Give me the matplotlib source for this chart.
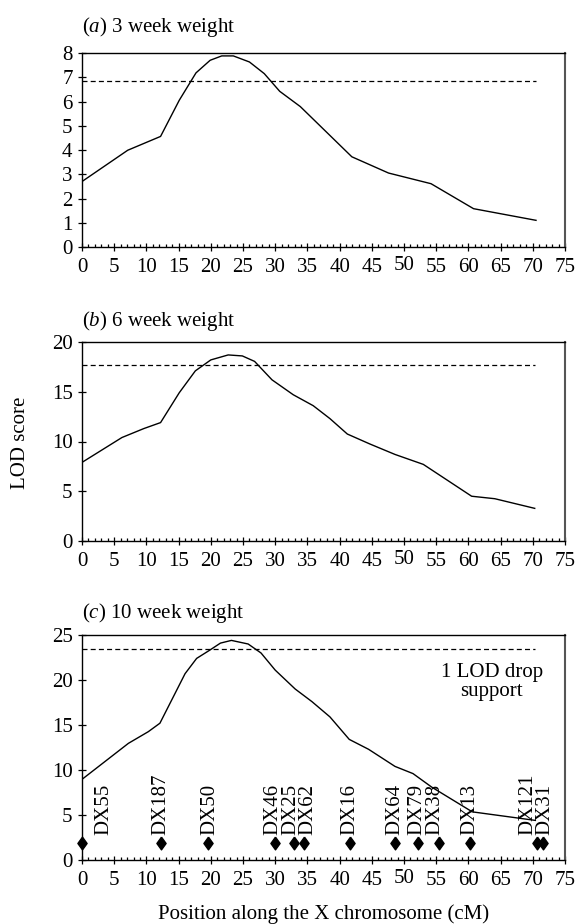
import matplotlib
matplotlib.use("Agg")
import matplotlib.pyplot as plt
from matplotlib.ticker import MultipleLocator, FixedLocator
from matplotlib.transforms import ScaledTranslation

plt.rcParams['font.family'] = ['Liberation Serif', 'DejaVu Serif']
plt.rcParams['mathtext.fontset'] = 'custom'
plt.rcParams['mathtext.rm'] = 'Liberation Serif'
plt.rcParams['mathtext.it'] = 'Liberation Serif:italic'
plt.rcParams['lines.scale_dashes'] = False

# Panel (a) 3 week weight
pos_a = [0, 7.1, 12.2, 15.1, 17.7, 19.9, 21.7, 23.5, 26.0, 28.3, 30.7, 33.9, 41.9, 47.6, 54.2, 60.8, 70.5]
lod_a = [2.70, 3.99, 4.56, 6.05, 7.18, 7.70, 7.88, 7.88, 7.63, 7.15, 6.42, 5.79, 3.72, 3.05, 2.61, 1.58, 1.10]
thr_a = 6.85

# Panel (b) 6 week weight
pos_b = [0, 6.2, 9.6, 12.2, 15.1, 17.6, 20.0, 22.7, 24.9, 26.8, 29.5, 32.8, 35.9, 38.5, 41.2, 44.7, 48.6, 53.0, 60.5, 64.1, 70.3]
lod_b = [7.9, 10.4, 11.3, 11.9, 14.9, 17.1, 18.2, 18.7, 18.6, 18.05, 16.2, 14.7, 13.6, 12.3, 10.75, 9.75, 8.7, 7.7, 4.5, 4.25, 3.28]
thr_b = 17.7

# Panel (c) 10 week weight
pos_c = [0, 7.2, 10.3, 12.1, 14.3, 16.0, 17.8, 19.8, 21.5, 23.2, 25.8, 27.8, 30.0, 33.1, 35.7, 38.5, 41.5, 44.5, 48.6, 51.4, 54.3, 60.6, 70.4]
lod_c = [8.96, 12.96, 14.26, 15.2, 18.3, 20.7, 22.4, 23.3, 24.1, 24.4, 24.0, 23.0, 21.1, 19.0, 17.6, 15.9, 13.4, 12.3, 10.4, 9.6, 8.1, 5.35, 4.4]
thr_c = 23.5

# Markers
marker_names = ['DX55', 'DX187', 'DX50', 'DX46', 'DX25', 'DX62', 'DX16', 'DX64', 'DX79', 'DX38', 'DX13', 'DX121', 'DX31']
marker_pos = [0, 12.2, 19.6, 30.0, 32.9, 34.5, 41.6, 48.6, 52.2, 55.5, 60.3, 70.6, 71.6]
label_pos = [3.4, 12.3, 19.8, 29.6, 32.4, 35.0, 41.6, 48.6, 52.0, 54.8, 60.2, 69.3, 71.9]
marker_y = 1.9

titles = [r'($\mathit{a}$) 3 week weight', r'($\mathit{b}$) 6 week weight', r'($\mathit{c}$) 10 week weight']
xticks = list(range(0, 80, 5))

W, H = 579, 924
fig = plt.figure(figsize=(W / 100, H / 100), dpi=100)

def rect(l, t, r, b):
    return [l / W, 1 - b / H, (r - l) / W, (b - t) / H]

ax_a = fig.add_axes(rect(82, 53, 565, 247))
ax_b = fig.add_axes(rect(82, 342, 565, 541))
ax_c = fig.add_axes(rect(82, 635, 565, 860))

panels = [
    (ax_a, pos_a, lod_a, thr_a, 8, 1, 21),
    (ax_b, pos_b, lod_b, thr_b, 20, 5, 16),
    (ax_c, pos_c, lod_c, thr_c, 25, 5, 17),
]

FS = 15
for i, (ax, px, py, thr, ymax, ystep, toff) in enumerate(panels):
    ax.plot(px, py, color='black', lw=1.0)
    ax.plot([0, px[-1]], [thr, thr], color='black', lw=0.9, linestyle=(0, (3.6, 2.3)))
    ax.set_xlim(0, 75)
    ax.set_ylim(0, ymax)
    ax.xaxis.set_major_locator(FixedLocator(xticks))
    ax.xaxis.set_minor_locator(MultipleLocator(1))
    ax.yaxis.set_major_locator(MultipleLocator(ystep))
    ax.tick_params(axis='x', which='major', direction='inout', length=6, width=0.9, labelsize=FS, pad=5)
    ax.tick_params(axis='x', which='minor', direction='in', length=2.4, width=0.9)
    ax.tick_params(axis='y', which='major', direction='inout', length=5.5, width=0.9, labelsize=FS, pad=4)
    ax.tick_params(top=False, right=False)
    for s in ['left', 'bottom', 'top']:
        ax.spines[s].set_linewidth(1.0)
        ax.spines[s].set_color('black')
    ax.spines['right'].set_linewidth(1.5)
    ax.spines['right'].set_color('#555555')
    ax.set_xticklabels([str(v) for v in xticks])
    lab50 = ax.get_xticklabels()[10]
    lab50.set_transform(lab50.get_transform() + ScaledTranslation(0, 2.5 / 100, fig.dpi_scale_trans))
    ax.text(0.0, 1.0, titles[i], transform=ax.transAxes + ScaledTranslation(0, toff / 100, fig.dpi_scale_trans),
            ha='left', va='baseline', fontsize=FS)

fig.text(21 / W, 1 - 443 / H, 'LOD score', rotation=90, ha='center', va='center', fontsize=FS)
fig.text(323.5 / W, 1 - 914 / H, 'Position along the X chromosome (cM)', ha='center', va='center', fontsize=FS)

diamond = [(0, 1), (0.72, 0), (0, -1), (-0.72, 0), (0, 1)]
ax_c.plot(marker_pos, [marker_y] * len(marker_pos), linestyle='none', marker=diamond,
          markersize=9.2, color='black', clip_on=False)
for name, lx in zip(marker_names, label_pos):
    ax_c.text(lx, 2.8, name, rotation=90, ha='center', va='bottom', fontsize=FS)

ax_c.text(63.6, 19.8, '1 LOD drop\nsupport', ha='center', va='center', fontsize=FS, linespacing=0.97)

fig.savefig('out.png', dpi=100)
